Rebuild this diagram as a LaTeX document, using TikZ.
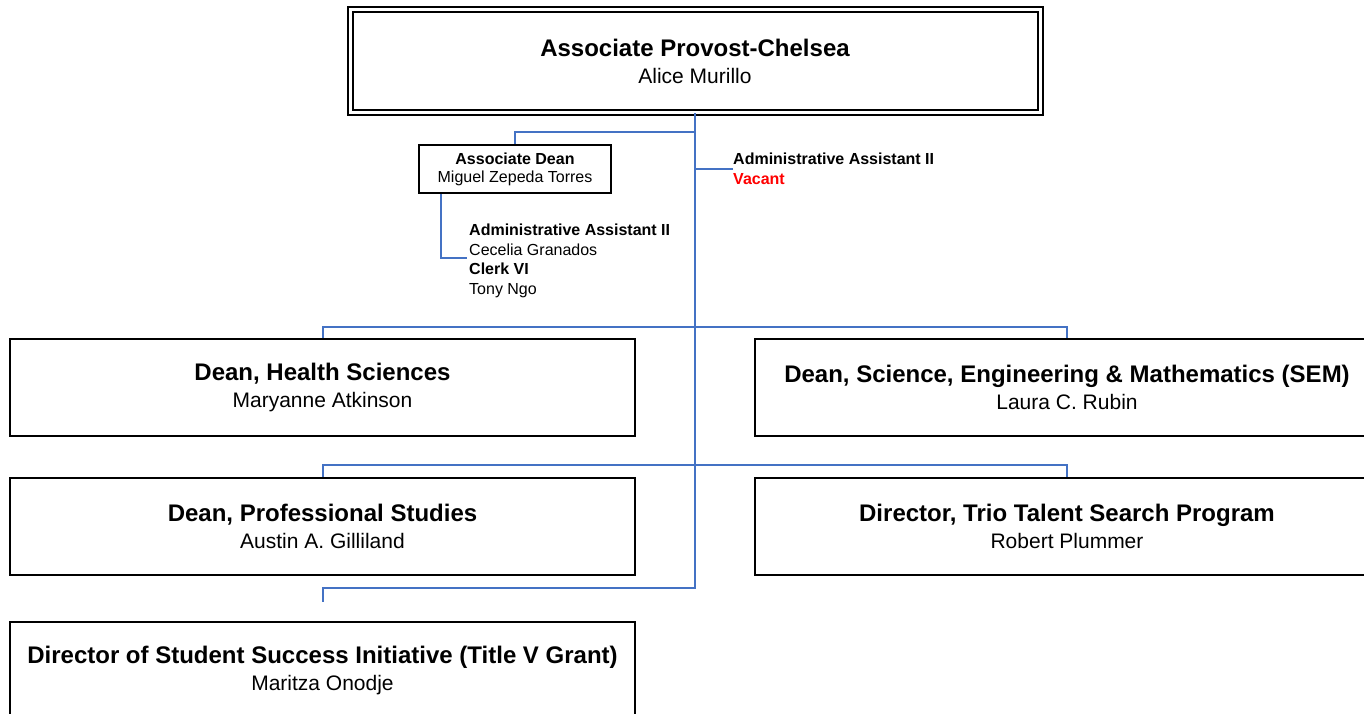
\documentclass[tikz,border=0pt]{standalone}
\usepackage{fontspec}
\setmainfont{Liberation Sans}
\usetikzlibrary{positioning}
\definecolor{linkblue}{HTML}{4472C4}
\definecolor{vacantred}{HTML}{FF0000}
\newcommand\headfont{\fontsize{24}{27}\selectfont\bfseries}
\begin{document}
\begin{tikzpicture}[
            x=1pt, y=-1pt,
            every node/.style = {inner sep=0pt, align=center},
            unit/.style = {draw=black, line width=2pt, minimum width=625pt, minimum height=97pt, font=\fontsize{21}{27}\selectfont},
            chief/.style = {unit, double, double distance=3pt, minimum width=690pt, minimum height=103pt},
            small/.style = {draw=black, line width=2pt, minimum width=192pt, minimum height=48pt, font=\fontsize{16}{18}\selectfont},
            staff/.style = {align=left, font=\fontsize{16}{19.5}\selectfont},
            link/.style = {draw=linkblue, line width=2pt}
          ]
          \useasboundingbox (0,0) rectangle (1364,714);
          \clip (0,0) rectangle (1364,714);
          \node[chief] (provost) at (695,61) {{\headfont Associate Provost-Chelsea}\\Alice Murillo};
          \node[small] (assocdean) at (515,169) {{\bfseries Associate Dean}\\Miguel Zepeda Torres};
          \node[staff, anchor=west] (vacant) at (733,169) {{\bfseries Administrative Assistant II}\\{\bfseries\color{vacantred}Vacant}};
          \node[staff, anchor=north west] (deanstaff) at (469,224) {{\bfseries Administrative Assistant II}\\Cecelia Granados\\{\bfseries Clerk VI}\\Tony Ngo};
          \node[unit] (deanhs) at (322.5,387.5) {{\headfont Dean, Health Sciences}\\Maryanne Atkinson};
          \node[unit] (deansem) at (1067,387.5) {{\headfont Dean, Science, Engineering \& Mathematics (SEM)}\\Laura C. Rubin};
          \node[unit] (deanps) at (322.5,526) {{\headfont Dean, Professional Studies}\\Austin A. Gilliland};
          \node[unit] (dirtrio) at (1067,526) {{\headfont Director, Trio Talent Search Program}\\Robert Plummer};
          \node[unit] (dirssi) at (322.5,670) {{\headfont Director of Student Success Initiative (Title V Grant)}\\Maritza Onodje};
          \coordinate (staffpt) at (467,258);
          \coordinate (trunkend) at (695,588);
          \coordinate (ssitip) at (323,602);
          \draw[link] (provost.south) -- (trunkend) -| (ssitip);
          \draw[link] (assocdean.north) -- ++(0,-12) -| (provost.south);
          \draw[link] (vacant.west) -- (vacant.west -| provost.south);
          \draw[link] ([xshift=23pt]assocdean.south west) |- (staffpt);
          \draw[link] (deanhs.north) -- ++(0,-11) -| (deansem.north);
          \draw[link] (deanps.north) -- ++(0,-12) -| (dirtrio.north);
        \end{tikzpicture}
\end{document}
